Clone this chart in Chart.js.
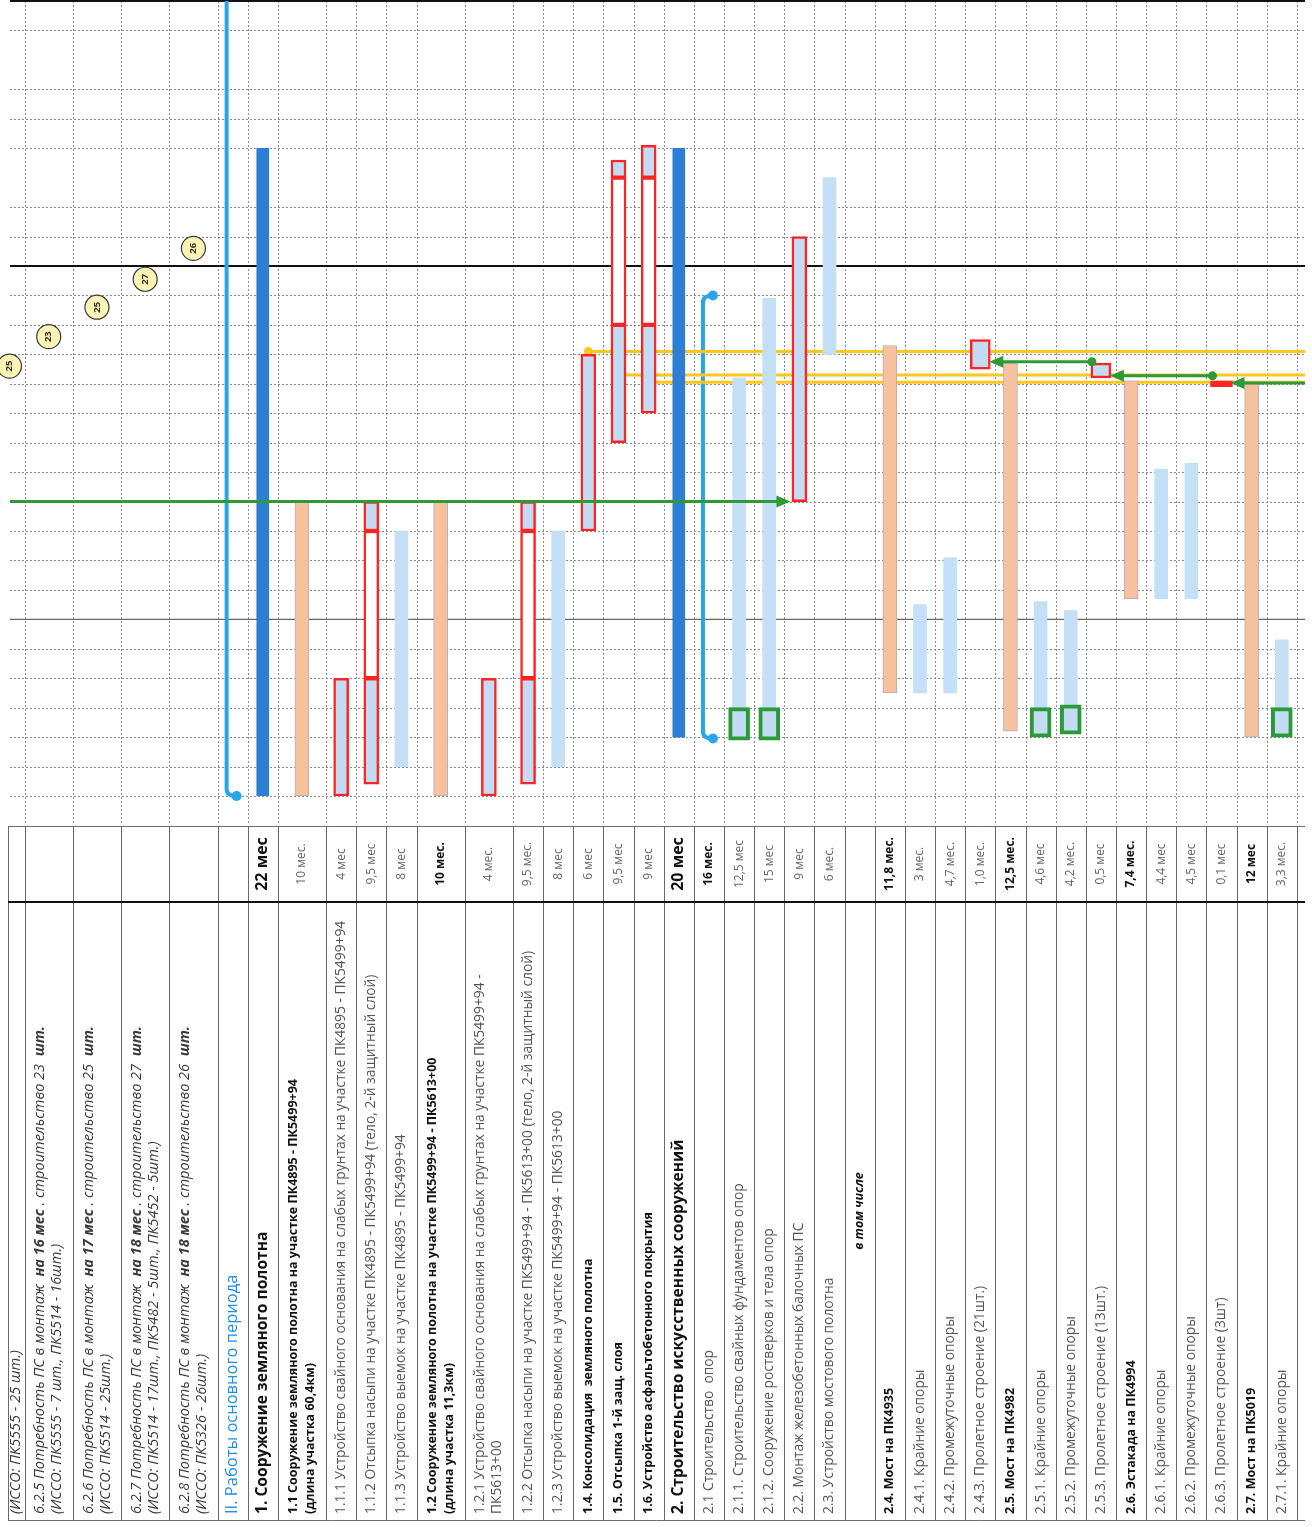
<!DOCTYPE html>
<html>
<head>
<meta charset="utf-8">
<script src="https://cdn.jsdelivr.net/npm/chart.js@4.4.1/dist/chart.umd.min.js"></script>
<style>
  html, body { margin: 0; background: #fff; }
  #wrap { width: 1312px; height: 1527px; position: relative; }
</style>
</head>
<body>
<div id="wrap"><canvas id="gantt"></canvas></div>
<script>
// --- table rows (each row of the schedule is a column of the turned chart)
const codes = ['6.2.4', '6.2.5', '6.2.6', '6.2.7', '6.2.8', 'II', '1', '1.1', '1.1.1', '1.1.2', '1.1.3',
  '1.2', '1.2.1', '1.2.2', '1.2.3', '1.4', '1.5', '1.6', '2', '2.1', '2.1.1', '2.1.2', '2.2', '2.3', 'incl',
  '2.4', '2.4.1', '2.4.2', '2.4.3', '2.5', '2.5.1', '2.5.2', '2.5.3', '2.6', '2.6.1', '2.6.2', '2.6.3', '2.7', '2.7.1'];

const labels = [
  '(ИССО: ПК5555 - 25 шт.)',
  '6.2.5 Потребность ПС в монтаж  **на 16 мес** . строительство 23  **шт.**\n(ИССО: ПК5555 - 7 шт., ПК5514 - 16шт.)',
  '6.2.6 Потребность ПС в монтаж  **на 17 мес** . строительство 25  **шт.**\n(ИССО: ПК5514 - 25шт.)',
  '6.2.7 Потребность ПС в монтаж  **на 18 мес** . строительство 27  **шт.**\n(ИССО: ПК5514 - 17шт., ПК5482 - 5шт., ПК5452 - 5шт.)',
  '6.2.8 Потребность ПС в монтаж  **на 18 мес** . строительство 26  **шт.**\n(ИССО: ПК5326 - 26шт.)',
  'II. Работы основного периода',
  '1. Сооружение земляного полотна',
  '1.1 Сооружение земляного полотна на участке ПК4895 - ПК5499+94\n(длина участка 60,4км)',
  '1.1.1 Устройство свайного основания на слабых грунтах на участке ПК4895 - ПК5499+94',
  '1.1.2 Отсыпка насыпи на участке ПК4895 - ПК5499+94 (тело, 2-й защитный слой)',
  '1.1.3 Устройство выемок на участке ПК4895 - ПК5499+94',
  '1.2 Сооружение земляного полотна на участке ПК5499+94 - ПК5613+00\n(длина участка 11,3км)',
  '1.2.1 Устройство свайного основания на слабых грунтах на участке ПК5499+94 -\nПК5613+00',
  '1.2.2 Отсыпка насыпи на участке ПК5499+94 - ПК5613+00 (тело, 2-й защитный слой)',
  '1.2.3 Устройство выемок на участке ПК5499+94 - ПК5613+00',
  '1.4. Консолидация  земляного полотна',
  '1.5. Отсыпка 1-й защ. слоя',
  '1.6. Устройство асфальтобетонного покрытия',
  '2. Строительство искусственных сооружений',
  '2.1 Строительство  опор',
  '2.1.1. Строительство свайных фундаментов опор',
  '2.1.2. Сооружение ростверков и тела опор',
  '2.2. Монтаж железобетонных балочных ПС',
  '2.3. Устройство мостового полотна',
  'в том числе',
  '2.4. Мост на ПК4935',
  '2.4.1. Крайние опоры',
  '2.4.2. Промежуточные опоры',
  '2.4.3. Пролетное строение (21шт.)',
  '2.5. Мост на ПК4982',
  '2.5.1. Крайние опоры',
  '2.5.2. Промежуточные опоры',
  '2.5.3. Пролетное строение (13шт.)',
  '2.6. Эстакада на ПК4994',
  '2.6.1. Крайние опоры',
  '2.6.2. Промежуточные опоры',
  '2.6.3. Пролетное строение (3шт)',
  '2.7. Мост на ПК5019',
  '2.7.1. Крайние опоры'
];

const durations = ['', '', '', '', '', '', '22 мес', '10 мес.', '4 мес', '9,5 мес', '8 мес',
  '10 мес.', '4 мес.', '9,5 мес.', '8 мес', '6 мес', '9,5 мес', '9 мес', '20 мес', '16 мес.', '12,5 мес', '15 мес',
  '9 мес', '6 мес.', '', '11,8 мес.', '3 мес.', '4,7 мес.', '1,0 мес.', '12,5 мес.', '4,6 мес', '4,2 мес.', '0,5 мес',
  '7,4 мес.', '4,4 мес', '4,5 мес', '0,1 мес', '12 мес', '3,3 мес.'];

// --- schedule, months from the start of the main period: [row, from, to]
const months = 27;
const summaryBars = [['1', 0, 22], ['2', 2, 22]];
const groupBars = [['1.1', 0, 10], ['1.2', 0, 10], ['2.4', 3.5, 15.3], ['2.5', 2.2, 14.7], ['2.6', 6.7, 14.1], ['2.7', 2, 14]];
const workBars = [['1.1.3', 1, 9], ['1.2.3', 1, 9], ['2.1.1', 3, 14.2], ['2.1.2', 3, 16.9], ['2.3', 15, 21],
  ['2.4.1', 3.5, 6.5], ['2.4.2', 3.5, 8.1], ['2.5.1', 3, 6.6], ['2.5.2', 3.1, 6.3], ['2.6.1', 6.7, 11.1],
  ['2.6.2', 6.7, 11.3], ['2.7.1', 3, 5.3]];
const criticalBars = [['1.1.1', 0, 4], ['1.1.2', 0.4, 4], ['1.1.2', 9, 10], ['1.2.1', 0, 4], ['1.2.2', 0.4, 4],
  ['1.2.2', 9, 10], ['1.4', 9, 15], ['1.5', 12, 16], ['1.5', 21, 21.6], ['1.6', 13, 16], ['1.6', 21, 22.1], ['2.2', 10, 19]];
const criticalPause = [['1.1.2', 4, 9], ['1.2.2', 4, 9], ['1.5', 16, 21], ['1.6', 16, 21]];
const spanBars = [['2.4.3', 14.5, 15.5], ['2.5.3', 14.2, 14.7]];
const spanRed = [['2.6.3', 13.9, 14.1]];
const startBars = [['2.1.1', 1.9, 3], ['2.1.2', 1.9, 3], ['2.5.1', 2, 3], ['2.5.2', 2.1, 3.1], ['2.7.1', 2, 3]];
const brackets = [['II', 0, 27.3], ['2.1', 1.95, 17]];
const milestones = [['6.2.4', 14.6, '25'], ['6.2.5', 15.6, '23'], ['6.2.6', 16.6, '25'], ['6.2.7', 17.55, '27'], ['6.2.8', 18.6, '26']];
const yellowLinks = [['1.4', 15.1], ['1.5', 14.3], ['1.6', 14.05]];
const greenLinks = [['left', '2.2', 10], ['2.5.3', '2.4.3', 14.75], ['2.6.3', '2.5.3', 14.27], ['right', '2.6.3', 14.03]];
const yearLines = [6, 18, 27];
const missingLines = [21, 25];

// --- looks
const rowStyle = ['note', 'note', 'note', 'note', 'note', 'section', 'h1', 'h2', 'task', 'task', 'task',
  'h2', 'task', 'task', 'task', 'h2', 'h2', 'h2', 'h1', 'task', 'task', 'task', 'task', 'task', 'sub',
  'h2', 'task', 'task', 'task', 'h2', 'task', 'task', 'task', 'h2', 'task', 'task', 'task', 'h2', 'task'];
const durStyle = ['', '', '', '', '', '', 'big', 'reg', 'reg', 'reg', 'reg', 'bold', 'reg', 'reg', 'reg', 'reg', 'reg', 'reg',
  'big', 'bold', 'reg', 'reg', 'reg', 'reg', '', 'bold', 'reg', 'reg', 'reg', 'bold', 'reg', 'reg', 'reg',
  'bold', 'reg', 'reg', 'reg', 'bold', 'reg'];
const FF = '"Open Sans", "Noto Sans", sans-serif';
const nameFonts = {
  note: { font: `italic 14.5px ${FF}`, bold: `italic bold 14.5px ${FF}`, color: '#3a3a3a' },
  section: { font: `16.5px ${FF}`, color: '#1c8fe0' },
  h1: { font: `bold 15.6px ${FF}`, color: '#111' },
  h2: { font: `bold 12.5px ${FF}`, color: '#111' },
  task: { font: `13.8px ${FF}`, color: '#555' },
  sub: { font: `italic bold 12.5px ${FF}`, color: '#111', center: true }
};
const durFonts = {
  big: { font: `bold 16px ${FF}`, color: '#111' },
  bold: { font: `bold 12px ${FF}`, color: '#111' },
  reg: { font: `12px ${FF}`, color: '#666' }
};

// row spans on the x scale: two-line rows are wider
const rowWidth = labels.map(l => (l.includes('\n') ? 1.6 : 1));
const rowStart = [];
let acc = 0;
rowWidth.forEach(w => { rowStart.push(acc); acc += w; });
const xEnd = acc;
const X_MIN = 0.45, X_MAX = xEnd + 0.27;
const center = c => { const i = codes.indexOf(c); return rowStart[i] + rowWidth[i] / 2; };

const toBars = list => list.map(([c, a, b]) => ({ x: center(c), y: [a, b] }));
const barSet = (list, style) => Object.assign({
  type: 'bar', data: toBars(list), grouped: false, borderSkipped: false, order: 5
}, style);

const datasets = [
  ...yellowLinks.map(([c, m]) => ({
    type: 'line', data: [{ x: center(c), y: m }, { x: X_MAX, y: m }],
    borderColor: '#ffc61c', borderWidth: 3, pointRadius: [4.5, 0], pointBackgroundColor: '#ffc61c',
    pointBorderWidth: 0, order: 20
  })),
  barSet(summaryBars, { backgroundColor: '#2e7ed4', barThickness: 12 }),
  barSet(groupBars, { backgroundColor: '#f6c29d', borderColor: '#b9a9c2', borderWidth: 1, barThickness: 14 }),
  barSet(workBars, { backgroundColor: '#c3e0f7', barThickness: 13 }),
  barSet(criticalBars, { backgroundColor: '#c4dcf3', borderColor: '#ff2424', borderWidth: 2.5, barThickness: 15, order: 4 }),
  barSet(criticalPause, { backgroundColor: '#ffffff', borderColor: '#ff2424', borderWidth: 2.5, barThickness: 15, order: 4 }),
  barSet(spanBars, { backgroundColor: '#c4dcf3', borderColor: '#ff2424', borderWidth: 2.5, barThickness: 20, order: 4 }),
  barSet(spanRed, { backgroundColor: '#ff2424', borderColor: '#ff2424', borderWidth: 1, barThickness: 22, order: 4 }),
  barSet(startBars, { backgroundColor: '#c4dcf3', borderColor: '#2a9a3a', borderWidth: 4, barThickness: 21, order: 4 }),
  {
    type: 'scatter', data: milestones.map(([c, m]) => ({ x: center(c), y: m })),
    pointRadius: 12, backgroundColor: '#fdf3b4', borderColor: '#3a3a3a', borderWidth: 1.2, clip: false, order: 1
  }
];
const MILESTONE_SET = datasets.length - 1;

function dotted(ctx, x1, y1, x2, y2) {
  ctx.beginPath(); ctx.moveTo(x1, y1); ctx.lineTo(x2, y2); ctx.stroke();
}

function drawRich(ctx, text, x0, y0, font, boldFont) {
  let cx = x0;
  text.split('**').forEach((p, k) => {
    ctx.font = k % 2 ? boldFont : font;
    ctx.fillText(p, cx, y0);
    cx += ctx.measureText(p).width;
  });
}

const ganttDecor = {
  id: 'ganttDecor',
  beforeDatasetsDraw(chart) {
    const { ctx, chartArea: a, scales: { x, y } } = chart;
    ctx.save();
    ctx.strokeStyle = '#8c8c8c';
    ctx.lineWidth = 1;
    ctx.setLineDash([2, 2]);
    for (let m = 0; m <= months; m++) {
      if (missingLines.includes(m) || yearLines.includes(m)) continue;
      const py = Math.round(y.getPixelForValue(m)) + 0.5;
      dotted(ctx, a.left + 2, py, a.right, py);
    }
    [...rowStart.slice(1), xEnd].forEach(s => {
      const px = Math.round(x.getPixelForValue(s)) + 0.5;
      dotted(ctx, px, a.top, px, 824);
    });
    ctx.setLineDash([]);
    yearLines.forEach(m => {
      const py = y.getPixelForValue(m);
      ctx.strokeStyle = m === 6 ? '#666' : '#111';
      ctx.lineWidth = m === 6 ? 1.3 : 2.2;
      dotted(ctx, a.left + 2, py, a.right, py);
    });
    // brackets of the period
    ctx.beginPath(); ctx.rect(a.left, a.top, a.width, a.height + 12); ctx.clip();
    ctx.strokeStyle = '#29a6ea'; ctx.fillStyle = '#29a6ea'; ctx.lineWidth = 4;
    brackets.forEach(([c, a0, b0]) => {
      const cx = x.getPixelForValue(center(c));
      const lx = cx - 6, dx = cx + 4;
      const y0 = y.getPixelForValue(a0), y1 = y.getPixelForValue(b0);
      ctx.beginPath();
      ctx.moveTo(dx, y1); ctx.quadraticCurveTo(lx, y1, lx, y1 + 7);
      ctx.lineTo(lx, y0 - 7); ctx.quadraticCurveTo(lx, y0, dx, y0);
      ctx.stroke();
      [y0, y1].forEach(py => { ctx.beginPath(); ctx.arc(dx, py, 5, 0, Math.PI * 2); ctx.fill(); });
    });
    ctx.restore();
  },
  afterDatasetsDraw(chart) {
    const { ctx, chartArea: a, scales: { x, y } } = chart;
    ctx.save();
    // links between works
    ctx.strokeStyle = '#2d9a36'; ctx.fillStyle = '#2d9a36'; ctx.lineWidth = 3;
    greenLinks.forEach(([from, to, m]) => {
      const py = y.getPixelForValue(m);
      const tx = x.getPixelForValue(center(to));
      const row = from !== 'left' && from !== 'right';
      const fx = from === 'left' ? a.left + 2 : from === 'right' ? a.right : x.getPixelForValue(center(from));
      const dir = Math.sign(tx - fx);
      const start = row ? fx + dir * 9 : fx;
      const tip = tx - dir * 9;
      ctx.beginPath(); ctx.moveTo(start, py); ctx.lineTo(tip - dir * 10, py); ctx.stroke();
      ctx.beginPath(); ctx.moveTo(tip, py); ctx.lineTo(tip - dir * 14, py - 6); ctx.lineTo(tip - dir * 14, py + 6);
      ctx.closePath(); ctx.fill();
      if (row) { ctx.beginPath(); ctx.arc(start, py, 4.5, 0, Math.PI * 2); ctx.fill(); }
    });
    // numbers in milestone circles
    const meta = chart.getDatasetMeta(MILESTONE_SET);
    ctx.fillStyle = '#333'; ctx.font = `bold 9.5px ${FF}`;
    ctx.textAlign = 'center'; ctx.textBaseline = 'middle';
    meta.data.forEach((pt, i) => {
      ctx.save(); ctx.translate(pt.x, pt.y); ctx.rotate(-Math.PI / 2);
      ctx.fillText(milestones[i][2], 0, 0); ctx.restore();
    });
    ctx.restore();
  },
  afterDraw(chart) {
    const { ctx, chartArea: a, scales: { x } } = chart;
    const top = 826, sep = 902, bottom = 1520, nameStart = 1514, durMid = 864;
    ctx.save();
    ctx.strokeStyle = '#6a6a6a'; ctx.lineWidth = 1;
    dotted(ctx, a.left, top + 0.5, a.right, top + 0.5);
    dotted(ctx, a.left, bottom + 0.5, a.right, bottom + 0.5);
    [a.left, ...rowStart.slice(1).map(s => x.getPixelForValue(s)), x.getPixelForValue(xEnd)].forEach(px => {
      dotted(ctx, Math.round(px) + 0.5, top, Math.round(px) + 0.5, bottom);
    });
    ctx.strokeStyle = '#111'; ctx.lineWidth = 2.2;
    dotted(ctx, a.left, sep, a.right, sep);

    ctx.beginPath(); ctx.rect(a.left, top, a.width, bottom - top); ctx.clip();
    ctx.textBaseline = 'middle';
    labels.forEach((lab, i) => {
      const left = Math.max(x.getPixelForValue(rowStart[i]), a.left);
      const right = x.getPixelForValue(rowStart[i] + rowWidth[i]);
      const cx = (left + right) / 2;
      const st = nameFonts[rowStyle[i]];
      ctx.fillStyle = st.color;
      const lines = lab.split('\n');
      lines.forEach((ln, k) => {
        const lx = cx + (k - (lines.length - 1) / 2) * 17;
        ctx.save(); ctx.translate(lx, st.center ? (sep + bottom) / 2 : nameStart); ctx.rotate(-Math.PI / 2);
        ctx.textAlign = st.center ? 'center' : 'left';
        if (st.bold) drawRich(ctx, ln, 0, 0, st.font, st.bold);
        else { ctx.font = st.font; ctx.fillText(ln, 0, 0); }
        ctx.restore();
      });
      if (durations[i]) {
        const d = durFonts[durStyle[i]];
        ctx.fillStyle = d.color; ctx.font = d.font; ctx.textAlign = 'center';
        ctx.save(); ctx.translate(cx, durMid); ctx.rotate(-Math.PI / 2);
        ctx.fillText(durations[i], 0, 0); ctx.restore();
      }
    });
    ctx.restore();
  }
};

new Chart(document.getElementById('gantt'), {
  type: 'bar',
  data: { datasets },
  options: {
    responsive: true,
    maintainAspectRatio: false,
    animation: false,
    layout: { autoPadding: false, padding: { left: 8, right: 7, top: 1, bottom: 731 } },
    scales: {
      x: { type: 'linear', min: X_MIN, max: X_MAX, offset: false, display: false },
      y: { type: 'linear', min: 0, max: months, display: false }
    },
    plugins: { legend: { display: false }, tooltip: { enabled: false } }
  },
  plugins: [ganttDecor]
});
</script>
</body>
</html>
